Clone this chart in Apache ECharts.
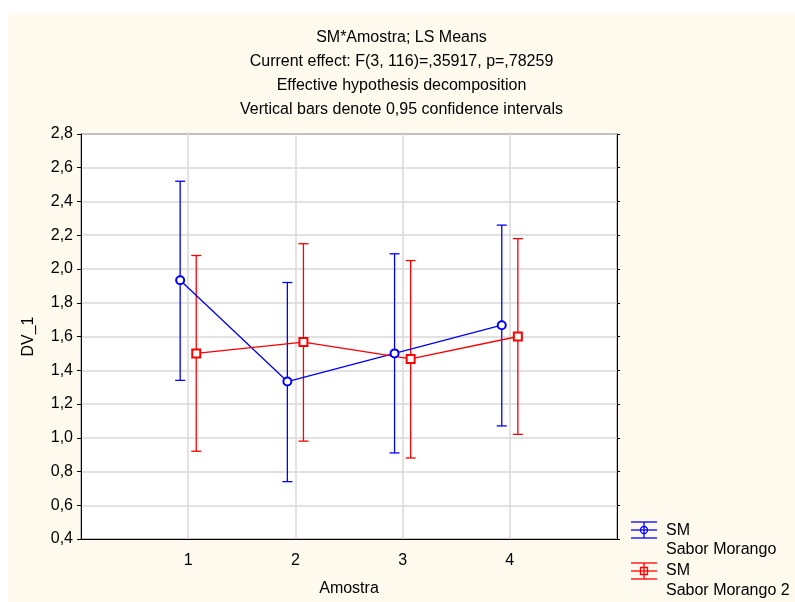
<!DOCTYPE html>
<html>
<head>
<meta charset="utf-8">
<title>SM*Amostra; LS Means</title>
<script src="https://cdn.jsdelivr.net/npm/echarts@6/dist/echarts.min.js"></script>
<style>
  html, body { margin: 0; padding: 0; background: #ffffff; }
  #main { position: absolute; left: 8px; top: 13px; width: 787px; height: 589px; }
</style>
</head>
<body>
<div id="main"></div>
<script type="text/javascript">
// data
var amostras = [1, 2, 3, 4];
var smMean  = [1.933, 1.333, 1.500, 1.667];
var smLow   = [1.34, 0.74, 0.91, 1.07];
var smHigh  = [2.52, 1.92, 2.09, 2.26];
var sm2Mean = [1.500, 1.567, 1.467, 1.600];
var sm2Low  = [0.92, 0.98, 0.88, 1.02];
var sm2High = [2.08, 2.15, 2.05, 2.18];
var titleLines = [
    'SM*Amostra; LS Means',
    'Current effect: F(3, 116)=,35917, p=,78259',
    'Effective hypothesis decomposition',
    'Vertical bars denote 0,95 confidence intervals'
];

var BLUE = '#0000ff';
var RED = '#ff0000';
var FONT = 'Liberation Sans, Arial, sans-serif';
var FS = 16;
var shift = 0.075; // the two groups are drawn slightly apart

function pts(means, dx) {
    var out = [];
    for (var i = 0; i < amostras.length; i++) out.push([amostras[i] + dx, means[i]]);
    return out;
}
function bars(lo, hi, dx) {
    var out = [];
    for (var i = 0; i < amostras.length; i++) out.push([amostras[i] + dx, lo[i], hi[i]]);
    return out;
}
function errRender(color) {
    return function (params, api) {
        var x = api.value(0);
        var top = api.coord([x, api.value(2)]);
        var bot = api.coord([x, api.value(1)]);
        var hw = 5;
        var st = { stroke: color, lineWidth: 1.3 };
        return {
            type: 'group',
            children: [
                { type: 'line', shape: { x1: top[0], y1: top[1], x2: bot[0], y2: bot[1] }, style: st },
                { type: 'line', shape: { x1: top[0] - hw, y1: top[1], x2: top[0] + hw, y2: top[1] }, style: st },
                { type: 'line', shape: { x1: bot[0] - hw, y1: bot[1], x2: bot[0] + hw, y2: bot[1] }, style: st }
            ]
        };
    };
}
function fmt(v) { return v.toFixed(1).replace('.', ','); }

// little legend icons (error bar + symbol)
function legendIcon(cx, cy, color, square) {
    var st = { stroke: color, lineWidth: 1.3, fill: null };
    var kids = [
        { type: 'line', shape: { x1: cx - 13, y1: cy, x2: cx + 13, y2: cy }, style: st },
        { type: 'line', shape: { x1: cx - 13, y1: cy - 8, x2: cx + 13, y2: cy - 8 }, style: st },
        { type: 'line', shape: { x1: cx - 13, y1: cy + 8, x2: cx + 13, y2: cy + 8 }, style: st },
        { type: 'line', shape: { x1: cx, y1: cy - 8, x2: cx, y2: cy + 8 }, style: st }
    ];
    if (square) kids.push({ type: 'rect', shape: { x: cx - 3.5, y: cy - 3.5, width: 7, height: 7 }, style: st });
    else kids.push({ type: 'circle', shape: { cx: cx, cy: cy, r: 3.5 }, style: st });
    return { type: 'group', children: kids };
}
function legendText(x, y, s) {
    return { type: 'text', left: x, top: y - 9, style: { text: s, fill: '#000', font: FS + 'px ' + FONT } };
}

var myChart = echarts.init(document.getElementById('main'));
var option = {
    backgroundColor: '#fff9ee',
    animation: false,
    textStyle: { fontFamily: FONT },
    title: {
        text: titleLines.join('\n'),
        left: 'center',
        top: 8,
        textStyle: { fontSize: FS, fontWeight: 'normal', color: '#000', lineHeight: 24, fontFamily: FONT }
    },
    grid: {
        left: 73, top: 121, right: 178, bottom: 62,
        show: true, backgroundColor: '#ffffff', borderColor: '#000', borderWidth: 1
    },
    xAxis: {
        type: 'value', min: 0, max: 5, interval: 1,
        name: 'Amostra', nameLocation: 'middle', nameGap: 42,
        nameTextStyle: { fontSize: FS, color: '#000' },
        axisLine: { show: true, lineStyle: { color: '#000' } },
        axisTick: { show: false },
        axisLabel: {
            color: '#000', fontSize: FS, margin: 14,
            formatter: function (v) { return (v >= 1 && v <= 4) ? String(v) : ''; }
        },
        splitLine: { show: true, lineStyle: { color: '#d8d8d8', width: 1.5 } }
    },
    yAxis: [{
        type: 'value', min: 0.4, max: 2.8, interval: 0.2,
        name: 'DV_1', nameLocation: 'middle', nameGap: 44,
        nameTextStyle: { fontSize: FS, color: '#000' },
        axisLine: { show: true, lineStyle: { color: '#000' } },
        axisTick: { show: true, length: 4, lineStyle: { color: '#000' } },
        axisLabel: { color: '#000', fontSize: FS, margin: 8, formatter: fmt },
        splitLine: { show: true, lineStyle: { color: '#d8d8d8', width: 1.5 } }
    }, {
        type: 'value', min: 0.4, max: 2.8, interval: 0.2, position: 'right',
        axisLine: { show: true, lineStyle: { color: '#000' } },
        axisTick: { show: true, length: 3, lineStyle: { color: '#000' } },
        axisLabel: { show: false },
        splitLine: { show: false }
    }],
    series: [{
        name: 'SM Sabor Morango', type: 'line', data: pts(smMean, -shift),
        symbol: 'emptyCircle', symbolSize: 8,
        itemStyle: { color: BLUE, borderWidth: 1.3 },
        lineStyle: { color: BLUE, width: 1.3 }, z: 3
    }, {
        name: 'SM Sabor Morango 2', type: 'line', data: pts(sm2Mean, shift),
        symbol: 'emptyRect', symbolSize: 8,
        itemStyle: { color: RED, borderWidth: 1.3 },
        lineStyle: { color: RED, width: 1.3 }, z: 3
    }, {
        type: 'custom', data: bars(smLow, smHigh, -shift),
        renderItem: errRender(BLUE), z: 2
    }, {
        type: 'custom', data: bars(sm2Low, sm2High, shift),
        renderItem: errRender(RED), z: 2
    }],
    graphic: [
        legendIcon(636, 517, BLUE, false),
        legendText(658, 519, 'SM'),
        legendText(658, 538, 'Sabor Morango'),
        legendIcon(636, 558, RED, true),
        legendText(658, 559, 'SM'),
        legendText(658, 579, 'Sabor Morango 2')
    ]
};
myChart.setOption(option);
</script>
</body>
</html>
